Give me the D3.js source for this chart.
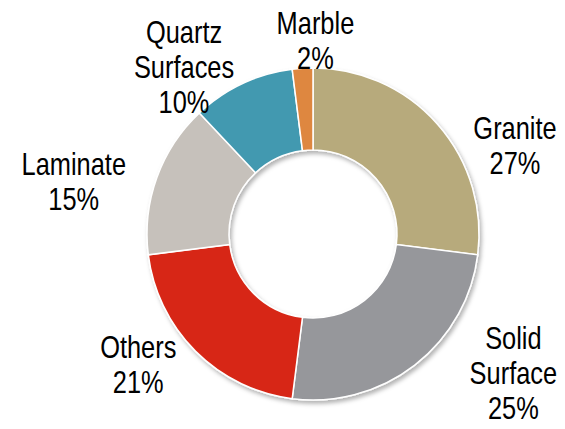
<!DOCTYPE html>
<html>
<head>
    <meta charset="utf-8">
    <title>Countertop materials share</title>
    <script src="https://d3js.org/d3.v7.min.js"></script>
    <style>
        html, body { margin: 0; padding: 0; background: #fff; }
    </style>
</head>
<body>
    <script>
// data
const categories = ["Granite", "Solid Surface", "Others", "Laminate", "Quartz Surfaces", "Marble"];
const shares = [27, 25, 21, 15, 10, 2];
// how the category names break over lines in the labels
const labelLines = [["Granite"], ["Solid", "Surface"], ["Others"], ["Laminate"], ["Quartz", "Surfaces"], ["Marble"]];
const colors = ["#b7aa7c", "#96979b", "#d72816", "#c6c1bb", "#4399b0", "#de873f"];

// layout
const width = 565, height = 429;
const cx = 313, cy = 234;
const outerR = 166, innerR = 84;
const labelR = 216;
// Excel labels were dragged by hand, so nudge each one from its centroid
const labelNudge = [[40, 54], [68, -32], [-22, -22], [-36, 21], [-37, 28], [16, 22]];
const fontSize = 31, lineH = 35, capH = 22, squeeze = 0.82;

let svg = d3.select("body")
    .append("svg")
    .attr("width", width)
    .attr("height", height);

// soft shadow like the office chart
let defs = svg.append("defs");
let f = defs.append("filter")
    .attr("id", "shadow")
    .attr("x", "-20%").attr("y", "-20%")
    .attr("width", "140%").attr("height", "140%");
f.append("feDropShadow")
    .attr("dx", 2).attr("dy", 3)
    .attr("stdDeviation", 2)
    .attr("flood-color", "#000")
    .attr("flood-opacity", 0.3);

let pie = d3.pie()
    .sort(null)
    .value(d => d);

let arcs = pie(shares);

let arc = d3.arc()
    .innerRadius(innerR)
    .outerRadius(outerR);

let labelArc = d3.arc()
    .innerRadius(labelR)
    .outerRadius(labelR);

let g = svg.append("g")
    .attr("transform", `translate(${cx},${cy})`);

g.append("g")
    .attr("filter", "url(#shadow)")
    .selectAll("path")
    .data(arcs)
    .enter()
    .append("path")
    .attr("d", arc)
    .style("fill", (d, i) => colors[i])
    .style("stroke", "#fff")
    .style("stroke-width", 1.5);

// labels
let labels = g.selectAll("text.lbl")
    .data(arcs)
    .enter()
    .append("text")
    .attr("class", "lbl")
    .attr("transform", (d, i) => {
        let c = labelArc.centroid(d);
        let lines = labelLines[i].length + 1;
        let x = c[0] + labelNudge[i][0];
        let mid = c[1] + labelNudge[i][1];
        let y = mid + capH / 2 - (lines - 1) * lineH / 2;
        return `translate(${x},${y}) scale(${squeeze},1)`;
    })
    .attr("text-anchor", "middle")
    .style("font-family", "'Liberation Sans', Arial, sans-serif")
    .style("font-size", fontSize + "px")
    .style("fill", "#000");

labels.each(function(d, i) {
    let t = d3.select(this);
    let lines = labelLines[i].concat([shares[i] + "%"]);
    lines.forEach((s, k) => {
        t.append("tspan")
            .attr("x", 0)
            .attr("dy", k === 0 ? 0 : lineH)
            .text(s);
    });
});
    </script>
</body>
</html>
